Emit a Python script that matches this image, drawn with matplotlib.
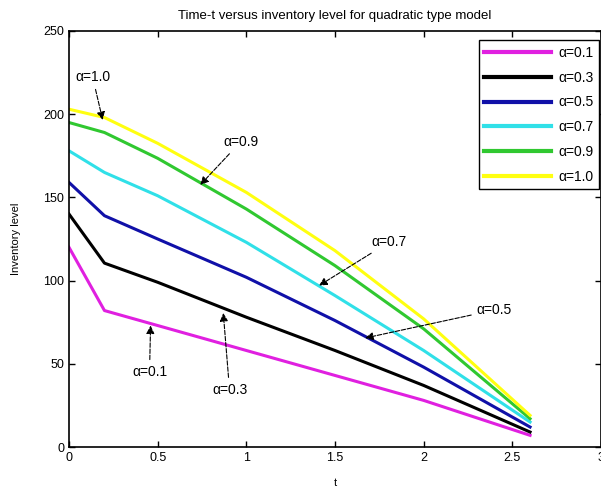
import matplotlib
matplotlib.use("Agg")
import matplotlib.pyplot as plt

plt.rcParams['font.family'] = ['Liberation Sans', 'DejaVu Sans']

t = [0.0, 0.2, 0.5, 1.0, 1.5, 2.0, 2.6]
inv_01 = [120, 82, 73, 58, 43, 28, 7]
inv_03 = [140, 110.5, 99, 78, 58, 37, 9]
inv_05 = [159, 139, 125, 102, 76, 48, 12]
inv_07 = [178, 165, 151, 123, 91, 58, 15]
inv_09 = [195, 189, 173.5, 143, 109, 71, 17]
inv_10 = [203, 198, 182.5, 153, 118, 77, 19]

labels = ['α=0.1', 'α=0.3', 'α=0.5', 'α=0.7', 'α=0.9', 'α=1.0']
colors = ['#e020e0', '#000000', '#1010a8', '#30e0e8', '#30c830', '#ffff10']
series = [inv_01, inv_03, inv_05, inv_07, inv_09, inv_10]

# annotations: text, arrow tip (t, y), text position (t, y)
ann_text = ['α=1.0', 'α=0.9', 'α=0.7', 'α=0.5', 'α=0.3', 'α=0.1']
ann_xy = [(0.19, 196.5), (0.74, 157.5), (1.41, 97), (1.67, 65.5), (0.87, 80.5), (0.46, 73)]
ann_txt_xy = [(0.034, 222.4), (0.868, 183.3), (1.707, 123.2), (2.299, 82.3), (0.806, 34.3), (0.355, 45)]

fig = plt.figure(figsize=(6.01, 4.93), dpi=100)
ax = fig.add_axes([69/601, 1-447/493, 532/601, 416/493])

for y, c, lab in zip(series, colors, labels):
    ax.plot(t, y, color=c, lw=2.2, label=lab)

for txt, xy, xyt in zip(ann_text, ann_xy, ann_txt_xy):
    ax.annotate(txt, xy=xy, xytext=xyt, fontsize=10, ha='left', va='center',
                arrowprops=dict(arrowstyle='-|>', color='black', lw=0.8,
                                linestyle=(0, (4, 1.5)), mutation_scale=12,
                                shrinkA=2, shrinkB=0))

ax.set_xlim(0, 3)
ax.set_ylim(0, 250)
ax.set_xticks([0, 0.5, 1, 1.5, 2, 2.5, 3])
ax.set_xticklabels(['0', '0.5', '1', '1.5', '2', '2.5', '3'])
ax.set_yticks([0, 50, 100, 150, 200, 250])
ax.tick_params(direction='in', top=True, right=True, labelsize=9, length=4, width=1)
for s in ax.spines.values():
    s.set_linewidth(1.2)

ax.set_title('Time-t versus inventory level for quadratic type model', fontsize=9.5, pad=9)
ax.set_xlabel('t', fontsize=8, labelpad=10)
ax.set_ylabel('Inventory level', fontsize=8, labelpad=16)

leg = ax.legend(loc='upper right', bbox_to_anchor=(0.996, 0.978), borderaxespad=0,
                fancybox=False, edgecolor='black', fontsize=10, handlelength=4.8,
                labelspacing=0.78, framealpha=1, handletextpad=0.5)
leg.get_frame().set_linewidth(1.0)
for line in leg.get_lines():
    line.set_linewidth(3)

fig.savefig('out.png', dpi=100)
